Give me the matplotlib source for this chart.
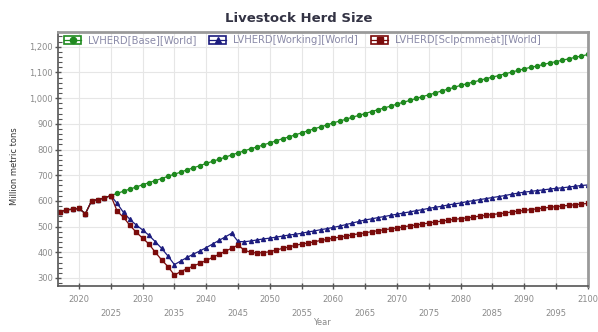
import numpy as np
import matplotlib
matplotlib.use("Agg")
import matplotlib.pyplot as plt
from matplotlib.lines import Line2D
from matplotlib.patches import Rectangle
from matplotlib.legend_handler import HandlerTuple
from matplotlib.ticker import MultipleLocator, FuncFormatter

years = np.arange(2017, 2101)

# shared history 2017-2025
history = [556, 566, 567, 571, 550, 601, 605, 611, 621]

base = history + [
    629, 638, 646, 654, 663, 671, 679, 687, 696, 704,
    712, 721, 729, 737, 746, 754, 762, 770, 779, 787,
    795, 803, 810, 818, 826, 834, 842, 849, 857, 865,
    873, 881, 888, 896, 904, 911, 918, 926, 933, 940,
    948, 955, 962, 969, 977, 984, 991, 999, 1006, 1013,
    1020, 1028, 1035, 1042, 1050, 1056, 1063, 1069, 1076, 1082,
    1088, 1095, 1101, 1108, 1114, 1120, 1125, 1131, 1137, 1142,
    1148, 1153, 1159, 1164, 1170]

working = history + [
    590, 555, 528, 506, 487, 466, 441, 415, 385, 352,
    366, 380, 393, 405, 418, 432, 446, 460, 474, 442,
    441, 444, 448, 452, 455, 459, 463, 467, 470, 474,
    479, 483, 488, 492, 497, 502, 508, 514, 520, 526,
    530, 535, 539, 544, 548, 553, 557, 562, 566, 571,
    575, 579, 584, 588, 592, 597, 601, 605, 609, 613,
    617, 621, 626, 630, 634, 637, 640, 643, 646, 649,
    651, 654, 657, 660, 662]

sclpcmmeat = history + [
    560, 536, 505, 478, 455, 432, 400, 370, 344, 311,
    325, 336, 347, 357, 368, 380, 392, 404, 416, 428,
    408, 400, 397, 399, 402, 409, 415, 421, 427, 432,
    436, 441, 446, 450, 455, 459, 463, 468, 472, 476,
    480, 484, 488, 491, 495, 499, 503, 506, 510, 514,
    518, 521, 525, 528, 531, 534, 537, 541, 544, 547,
    550, 553, 557, 560, 563, 566, 569, 572, 575, 578,
    580, 583, 585, 588, 590]

labels = ["LVHERD[Base][World]", "LVHERD[Working][World]", "LVHERD[Sclpcmmeat][World]"]
colors = ["#1f8a1f", "#1c1c7e", "#7a0b0b"]
markers = ["o", "^", "s"]

fig = plt.figure(figsize=(5.98, 3.32), dpi=100)
ax = fig.add_axes([0.097, 0.138, 0.886, 0.766])

for y, c, m in zip([base, working, sclpcmmeat], colors, markers):
    ax.plot(years, y, color=c, lw=0.9, marker=m, ms=2.9, mec=c, mfc=c)

ax.set_xlim(2016.7, 2100)
ax.set_ylim(268, 1258)

ax.yaxis.set_major_locator(MultipleLocator(100))
ax.yaxis.set_minor_locator(MultipleLocator(20))
ax.yaxis.set_major_formatter(FuncFormatter(lambda v, p: "{:,.0f}".format(v) if v >= 300 and v <= 1200 else ""))
ax.xaxis.set_major_locator(MultipleLocator(5))
ax.xaxis.set_major_formatter(FuncFormatter(lambda v, p: ""))

ax.grid(True, color="#e6e6e6", lw=0.8)
ax.set_axisbelow(True)

ax.tick_params(axis="y", which="major", direction="inout", length=5, width=1,
               colors="#555555", labelsize=6, labelcolor="#8a8a8a", pad=1)
ax.tick_params(axis="y", which="minor", direction="in", length=3, width=0.8, colors="#555555")
ax.tick_params(axis="x", which="major", direction="inout", length=5, width=1, colors="#555555")

# alternating two-row year labels
for yr in range(2020, 2101, 5):
    row = 0 if yr % 10 == 0 else 1
    ax.text(yr, -0.035 - row * 0.055, str(yr), transform=ax.get_xaxis_transform(),
            ha="center", va="top", fontsize=6, color="#8a8a8a")

for s in ["left", "bottom"]:
    ax.spines[s].set_color("#555555")
    ax.spines[s].set_linewidth(1.2)
for s in ["top", "right"]:
    ax.spines[s].set_color("#9a9a9a")
    ax.spines[s].set_linewidth(2)

fig.text(0.5, 0.945, "Livestock Herd Size", ha="center", va="center",
         fontsize=9.5, fontweight="bold", color="#333344")
fig.text(0.024, 0.5, "Million metric tons", rotation=90, ha="center", va="center",
         fontsize=6, color="#333333")
fig.text(0.538, 0.015, "Year", ha="center", va="bottom", fontsize=6, color="#8a8a8a")

handles = []
for c, m in zip(colors, markers):
    box = Rectangle((0, 0), 1, 1, facecolor="white", edgecolor=c, lw=1.2)
    mk = Line2D([], [], color=c, marker=m, ms=4.5, lw=0.9)
    handles.append((box, mk))
leg = ax.legend(handles, labels, ncol=3, loc="upper left", bbox_to_anchor=(0.0, 1.01),
                frameon=False, fontsize=7.2, handlelength=1.7, handleheight=0.8,
                columnspacing=1.3, handletextpad=0.7, borderaxespad=0.2, numpoints=1,
                handler_map={tuple: HandlerTuple(ndivide=1)})
for t in leg.get_texts():
    t.set_color("#8a8aa8")

fig.savefig("out.png", dpi=100)
